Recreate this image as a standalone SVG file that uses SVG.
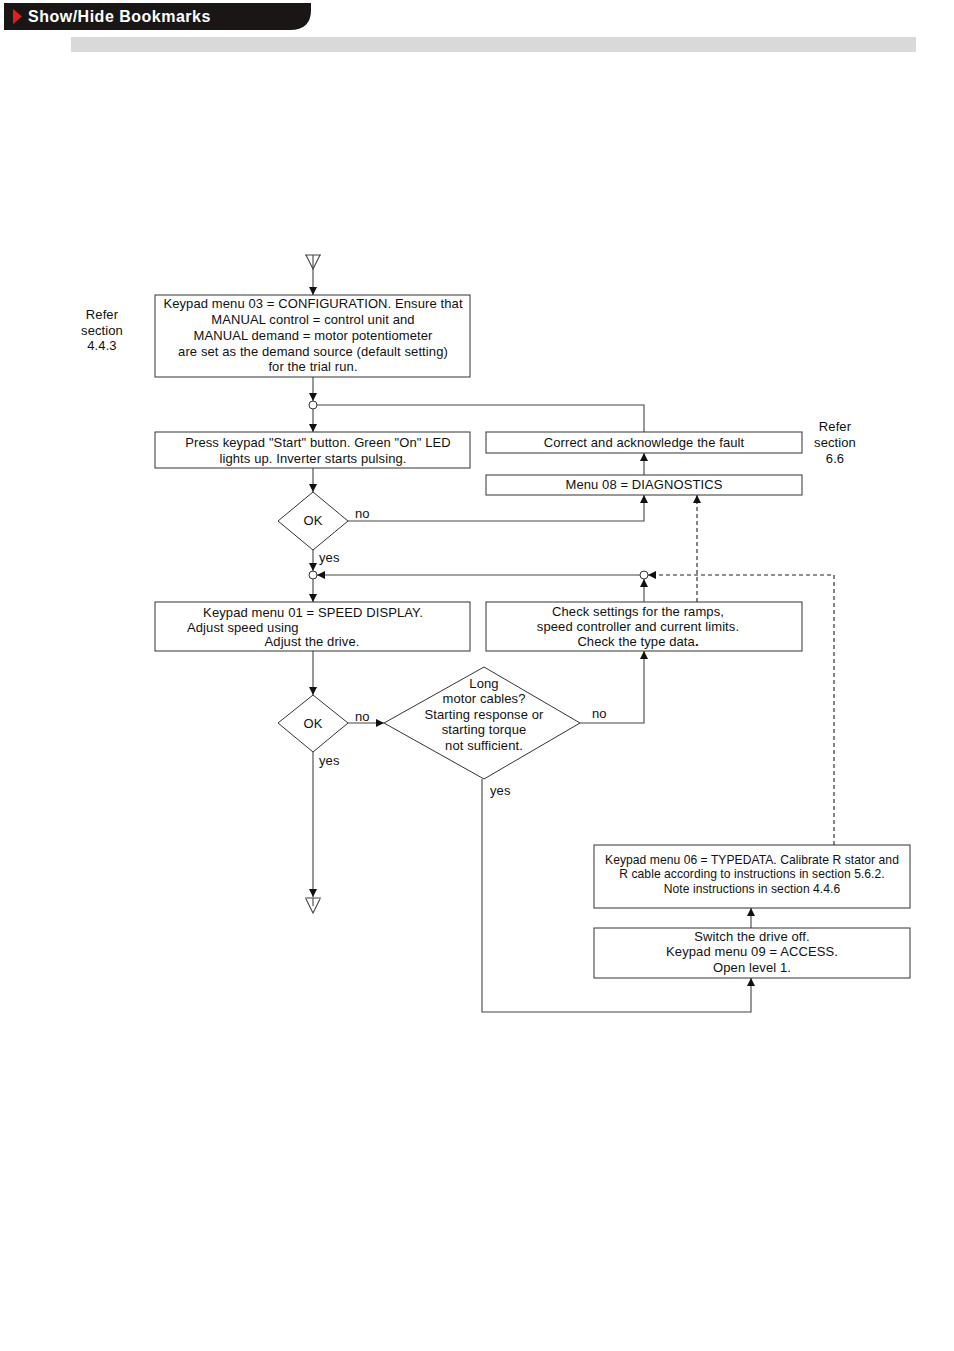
<svg xmlns="http://www.w3.org/2000/svg" width="954" height="1351" viewBox="0 0 954 1351">
<defs>
<style>
text{font-family:"Liberation Sans",Arial,sans-serif;font-size:13px;letter-spacing:0.1px;fill:#111}
.c{text-anchor:middle}
.s{font-size:12.1px;letter-spacing:0.05px}
.box{fill:#fff;stroke:#333;stroke-width:1}
.ln{fill:none;stroke:#444;stroke-width:1.1}
.ar{fill:none;stroke:#444;stroke-width:1.1;marker-end:url(#ah)}
.da{fill:none;stroke:#222;stroke-width:1.1;stroke-dasharray:4,3}
.jn{fill:#fff;stroke:#333;stroke-width:1}
</style>
<marker id="ah" viewBox="0 0 10 10" refX="10" refY="5" markerWidth="8" markerHeight="8" markerUnits="userSpaceOnUse" orient="auto"><path d="M0,0 L10,5 L0,10 z" fill="#111"/></marker>
</defs>
<rect width="954" height="1351" fill="#fff"/>
<g id="header">
<path d="M4,3 H311 V10 Q311,30 290,30 H4 Z" fill="#1a1616"/>
<path d="M13,9 L22,16.5 L13,24 Z" fill="#e02020"/>
<text x="28" y="22" style="font-size:16px;letter-spacing:0.5px;font-weight:bold;fill:#fff">Show/Hide Bookmarks</text>
<rect x="71" y="37" width="845" height="15" fill="#d9d9d9"/>
</g>
<g id="connectors">
<path class="ln" d="M305,255 H321 M306,255 L313,269 L320,255"/>
<path class="ar" d="M313,255 V295"/>
<path class="ar" d="M313,377 V401"/>
<path class="ln" d="M317,405 H644 V432"/>
<path class="ar" d="M313,409 V432"/>
<path class="ar" d="M644,475 V453"/>
<path class="ar" d="M313,468 V492"/>
<path class="ar" d="M348,521 H644 V495"/>
<path class="ar" d="M313,550 V571"/>
<path class="ar" d="M313,579 V602"/>
<path class="ar" d="M640,575 H317"/>
<path class="ar" d="M644,602 V579"/>
<path class="da" d="M834,845 V575 H648" marker-end="url(#ah)"/>
<path class="da" d="M697,602 V495" marker-end="url(#ah)"/>
<path class="ar" d="M313,651 V695"/>
<path class="ar" d="M348,723 H384"/>
<path class="ar" d="M580,723 H644 V651"/>
<path class="ar" d="M482,779 V1012 H751 V978"/>
<path class="ar" d="M751,928 V908"/>
<path class="ar" d="M313,752 V897"/>
<path class="ln" d="M305,898 H321 M306,899 L313,913 L320,899 M313,898 V906"/>
</g>
<g id="n_refer1">
<text class="c" x="102" y="319">Refer</text>
<text class="c" x="102" y="335">section</text>
<text class="c" x="102" y="350">4.4.3</text>
</g>
<g id="n_config">
<rect class="box" x="155" y="295" width="315" height="82"/>
<text class="c" x="313" y="308">Keypad menu 03 = CONFIGURATION. Ensure that</text>
<text class="c" x="313" y="324">MANUAL control = control unit and</text>
<text class="c" x="313" y="340">MANUAL demand = motor potentiometer</text>
<text class="c" x="313" y="356">are set as the demand source (default setting)</text>
<text class="c" x="313" y="371">for the trial run.</text>
</g>
<g id="j1"><circle class="jn" cx="313" cy="405" r="4"/></g>
<g id="n_start">
<rect class="box" x="155" y="432" width="315" height="36"/>
<text class="c" x="318" y="447">Press keypad "Start" button. Green "On" LED</text>
<text class="c" x="313" y="463">lights up. Inverter starts pulsing.</text>
</g>
<g id="n_correct">
<rect class="box" x="486" y="432" width="316" height="21"/>
<text class="c" x="644" y="447">Correct and acknowledge the fault</text>
</g>
<g id="n_refer2">
<text class="c" x="835" y="431">Refer</text>
<text class="c" x="835" y="447">section</text>
<text class="c" x="835" y="463">6.6</text>
</g>
<g id="n_diag">
<rect class="box" x="486" y="475" width="316" height="20"/>
<text class="c" x="644" y="489">Menu 08 = DIAGNOSTICS</text>
</g>
<g id="n_ok1">
<path class="box" d="M313,492 L348,521 L313,550 L278,521 Z"/>
<text class="c" x="313" y="525">OK</text>
<text x="355" y="518">no</text>
<text x="319" y="562">yes</text>
</g>
<g id="j2"><circle class="jn" cx="313" cy="575" r="4"/></g>
<g id="j3"><circle class="jn" cx="644" cy="575" r="4"/></g>
<g id="n_speed">
<rect class="box" x="155" y="602" width="315" height="49"/>
<text class="c" x="313" y="617">Keypad menu 01 = SPEED DISPLAY.</text>
<text x="187" y="632">Adjust speed using</text>
<text class="c" x="312" y="646">Adjust the drive.</text>
</g>
<g id="n_check">
<rect class="box" x="486" y="602" width="316" height="49"/>
<text class="c" x="638" y="616">Check settings for the ramps,</text>
<text class="c" x="638" y="631">speed controller and current limits.</text>
<text class="c" x="638" y="646">Check the type data<tspan style="font-weight:bold">.</tspan></text>
</g>
<g id="n_ok2">
<path class="box" d="M313,695 L348,723 L313,752 L278,723 Z"/>
<text class="c" x="313" y="728">OK</text>
<text x="355" y="721">no</text>
<text x="319" y="765">yes</text>
</g>
<g id="n_long">
<path class="box" d="M484,667 L580,723 L484,779 L384,723 Z"/>
<text class="c" x="484" y="688">Long</text>
<text class="c" x="484" y="703">motor cables?</text>
<text class="c" x="484" y="719">Starting response or</text>
<text class="c" x="484" y="734">starting torque</text>
<text class="c" x="484" y="750">not sufficient.</text>
<text x="592" y="718">no</text>
<text x="490" y="795">yes</text>
</g>
<g id="n_typedata">
<rect class="box" x="594" y="845" width="316" height="63"/>
<text class="c s" x="752" y="864">Keypad menu 06 = TYPEDATA. Calibrate R stator and</text>
<text class="c s" x="752" y="878">R cable according to instructions in section 5.6.2.</text>
<text class="c s" x="752" y="893">Note instructions in section 4.4.6</text>
</g>
<g id="n_access">
<rect class="box" x="594" y="928" width="316" height="50"/>
<text class="c" x="752" y="941">Switch the drive off.</text>
<text class="c" x="752" y="956">Keypad menu 09 = ACCESS.</text>
<text class="c" x="752" y="972">Open level 1.</text>
</g>
</svg>
